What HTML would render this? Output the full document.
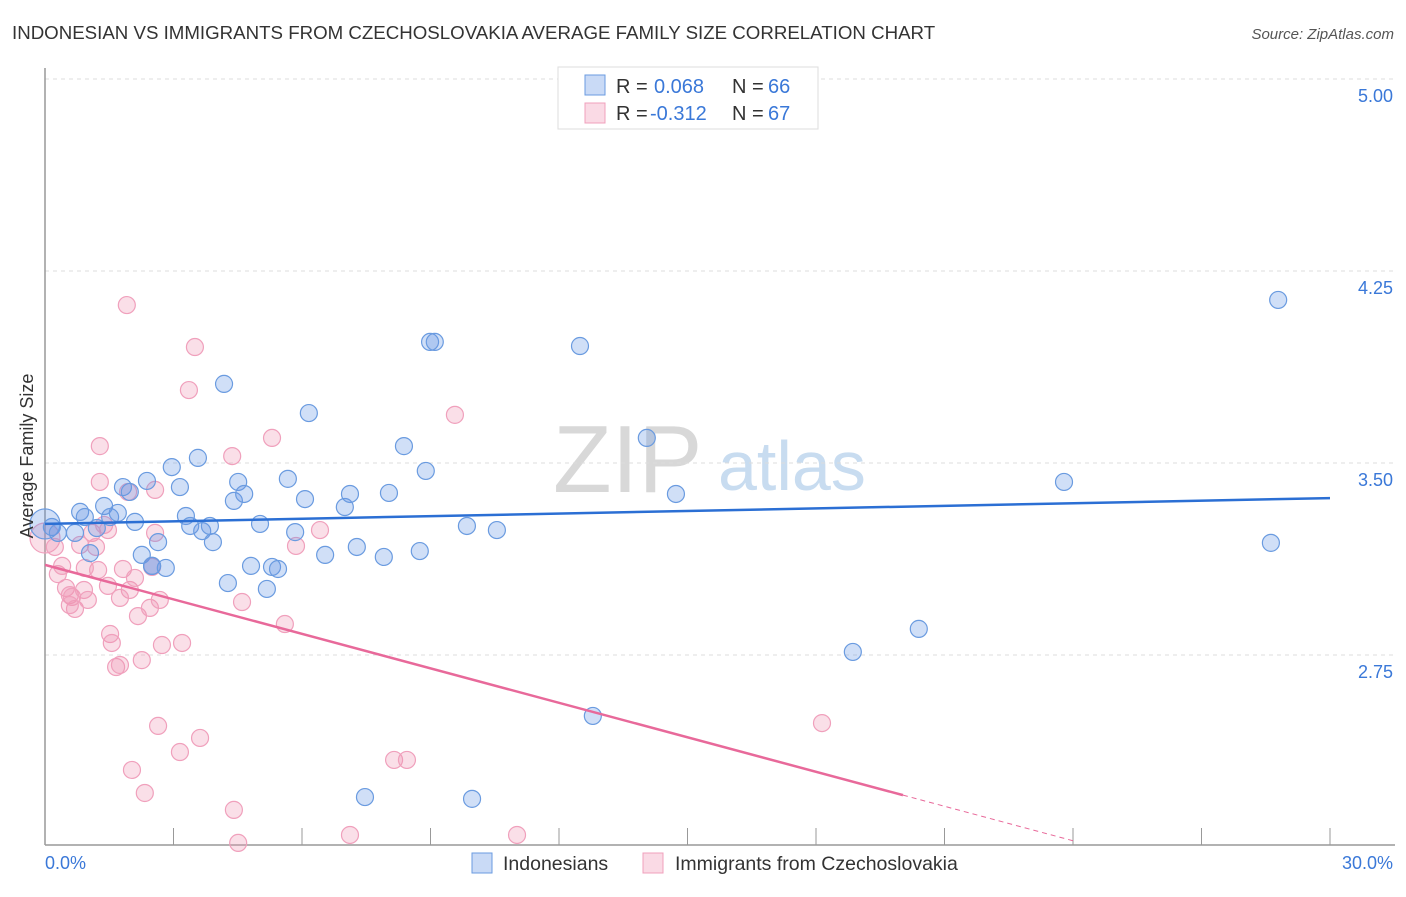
<!DOCTYPE html>
<html><head><meta charset="utf-8"><style>
body{margin:0;background:#fff;font-family:"Liberation Sans",sans-serif;}
svg text{font-family:"Liberation Sans",sans-serif;}
</style></head><body>
<svg id="chart" width="1406" height="892" xmlns="http://www.w3.org/2000/svg">
<text x="12" y="39" font-size="18.7" fill="#333">INDONESIAN VS IMMIGRANTS FROM CZECHOSLOVAKIA AVERAGE FAMILY SIZE CORRELATION CHART</text>
<text x="1394" y="39" font-size="15" fill="#555" font-style="italic" text-anchor="end">Source: ZipAtlas.com</text>
<g>
<text x="553" y="492" font-size="96" fill="#d8d8d8" font-family="Liberation Serif">ZIP</text>
<text x="718" y="490" font-size="70" fill="#c8dcf0">atlas</text>
</g>
<g id="grid"></g>
<g id="axes"></g>
<g id="points"></g>
<g id="lines"></g>
<text x="33" y="456" font-size="18" fill="#333" text-anchor="middle" transform="rotate(-90 33 456)">Average Family Size</text>
<text x="45" y="869" font-size="18" fill="#3a78d8">0.0%</text>
<text x="1393" y="869" font-size="18" fill="#3a78d8" text-anchor="end">30.0%</text>
<g>
<rect x="558" y="67" width="260" height="62" fill="#fff" stroke="#ddd"/>
<rect x="585" y="75" width="20" height="20" fill="rgba(100,150,230,0.35)" stroke="#6a9be0"/>
<rect x="585" y="103" width="20" height="20" fill="rgba(240,150,180,0.35)" stroke="#f0a0bc"/>
<text y="93" font-size="20" fill="#333"><tspan x="616">R =</tspan><tspan x="654" fill="#3a78d8">0.068</tspan><tspan x="732">N =</tspan><tspan x="768" fill="#3a78d8">66</tspan></text>
<text y="120" font-size="20" fill="#333"><tspan x="616">R =</tspan><tspan x="650" fill="#3a78d8">-0.312</tspan><tspan x="732">N =</tspan><tspan x="768" fill="#3a78d8">67</tspan></text>
</g>
<g>
<rect x="472" y="853" width="20" height="20" fill="rgba(100,150,230,0.35)" stroke="#6a9be0"/>
<text x="503" y="870" font-size="19.5" fill="#333">Indonesians</text>
<rect x="643" y="853" width="20" height="20" fill="rgba(240,150,180,0.35)" stroke="#f0a0bc"/>
<text x="675" y="870" font-size="19.5" fill="#333">Immigrants from Czechoslovakia</text>
</g>
</svg>
<script>
const yTicks=[5.00,4.25,3.50,2.75];
const yTickLabels=["5.00","4.25","3.50","2.75"];
const xTicks=[0,3,6,9,12,15,18,21,24,27,30];
const blueX=[0,0.16,0.30,0.70,0.82,0.93,1.05,1.21,1.38,1.52,1.70,1.82,1.98,2.10,2.26,2.38,2.50,2.64,2.82,2.96,3.15,3.29,3.39,3.57,3.67,3.85,3.92,4.18,4.27,4.41,4.51,4.65,4.81,5.02,5.18,5.30,5.44,5.67,5.84,6.07,6.16,6.54,7.00,7.12,7.28,7.91,8.03,8.38,8.75,8.89,8.99,9.10,9.85,10.55,7.47,9.97,12.49,12.79,14.05,14.73,18.86,20.40,23.79,28.62,28.79,2.50];
const blueY=[3.262,3.25,3.227,3.227,3.309,3.289,3.148,3.246,3.332,3.289,3.305,3.406,3.387,3.270,3.141,3.430,3.098,3.191,3.090,3.484,3.406,3.293,3.254,3.520,3.234,3.254,3.191,3.809,3.031,3.352,3.426,3.379,3.098,3.262,3.008,3.094,3.086,3.438,3.230,3.359,3.695,3.141,3.328,3.379,3.172,3.133,3.383,3.566,3.156,3.469,3.973,3.973,3.254,3.238,2.195,2.188,3.957,2.512,3.598,3.379,2.762,2.852,3.426,3.188,4.137,3.098];
const pinkX=[0,0.23,0.30,0.40,0.49,0.58,0.63,0.70,0.82,0.91,1.00,1.10,1.19,1.28,1.38,1.24,1.28,1.47,1.52,1.56,1.66,1.75,1.82,1.91,1.98,2.10,2.17,2.26,2.33,2.45,2.50,2.57,2.57,2.64,2.68,2.73,3.15,3.20,3.36,3.50,3.62,4.37,4.41,4.51,4.60,5.30,5.60,5.86,6.42,7.12,8.15,8.45,9.57,11.02,18.14,2.03,1.94,1.47,0.93,0.58,1.75];
const pinkY=[3.207,3.172,3.066,3.098,3.012,2.984,2.977,2.930,3.180,3.004,2.965,3.227,3.172,3.426,3.258,3.082,3.566,3.020,2.832,2.797,2.703,2.711,3.086,4.117,3.004,3.051,2.902,2.730,2.211,2.934,3.094,3.395,3.227,2.473,2.965,2.789,2.371,2.797,3.785,3.953,2.426,3.527,2.145,2.016,2.957,3.598,2.871,3.176,3.238,2.047,2.340,2.340,3.688,2.047,2.484,2.301,3.387,3.238,3.090,2.945,2.973];
const blueTrend=[3.262,3.363];
const pinkTrend=[3.102,1.755];
const pinkSolidEnd=20.03, pinkDashEnd=24.0;

const NS="http://www.w3.org/2000/svg";
const X0=45,X1=1330,Y5=79,PXU=256;
function sx(v){return X0+(X1-X0)*v/30;}
function sy(v){return Y5+(5-v)*PXU;}
function mk(t,a,p){const e=document.createElementNS(NS,t);for(const k in a)e.setAttribute(k,a[k]);p.appendChild(e);return e;}
const grid=document.getElementById('grid'),axes=document.getElementById('axes'),pts=document.getElementById('points'),lines=document.getElementById('lines');
let e=mk('line',{x1:X0,x2:1395,y1:Y5,y2:Y5,stroke:'#ddd','stroke-dasharray':'4,4'},grid);


yTicks.forEach((t,i)=>{
 if(i>0){const g=mk('line',{x1:X0,x2:1395,y1:sy(t),y2:sy(t),stroke:'#ddd','stroke-dasharray':'4,4'},grid);
 
 }
 const l=mk('text',{x:1393,y:sy(t)+23,'font-size':18,fill:'#3a78d8','text-anchor':'end'},axes);
 l.textContent=yTickLabels[i];
 
 
});
e=mk('line',{x1:X0,x2:X0,y1:68,y2:845,stroke:'#999','stroke-width':1.5},axes);


e=mk('line',{x1:X0,x2:1395,y1:845,y2:845,stroke:'#999','stroke-width':1.5},axes);


xTicks.forEach(t=>{const k=mk('line',{x1:sx(t),x2:sx(t),y1:828,y2:845,stroke:'#999'},axes);
 
 });
function dots(xs,ys,fill,stroke,name){xs.forEach((x,i)=>{
 const r=(i===0)?15:8.5;
 const c=mk('circle',{cx:sx(x),cy:sy(ys[i]),r:r,fill:fill,stroke:stroke,'stroke-width':1.2},pts);
 
 });}
dots(pinkX,pinkY,'rgba(240,150,180,0.3)','#f0a0bc','pink-point');
dots(blueX,blueY,'rgba(100,150,230,0.3)','#6a9be0','blue-point');
e=mk('line',{x1:sx(0),y1:sy(blueTrend[0]),x2:sx(30),y2:sy(blueTrend[1]),stroke:'#2b6fd4','stroke-width':2.5},lines);


const ps=(pinkTrend[1]-pinkTrend[0])/30;
e=mk('line',{x1:sx(0),y1:sy(pinkTrend[0]),x2:sx(pinkSolidEnd),y2:sy(pinkTrend[0]+ps*pinkSolidEnd),stroke:'#e8699a','stroke-width':2.5},lines);


e=mk('line',{x1:sx(pinkSolidEnd),y1:sy(pinkTrend[0]+ps*pinkSolidEnd),x2:sx(pinkDashEnd),y2:sy(pinkTrend[0]+ps*pinkDashEnd),stroke:'#e8699a','stroke-width':1,'stroke-dasharray':'5,4'},lines);


</script>
</body></html>
